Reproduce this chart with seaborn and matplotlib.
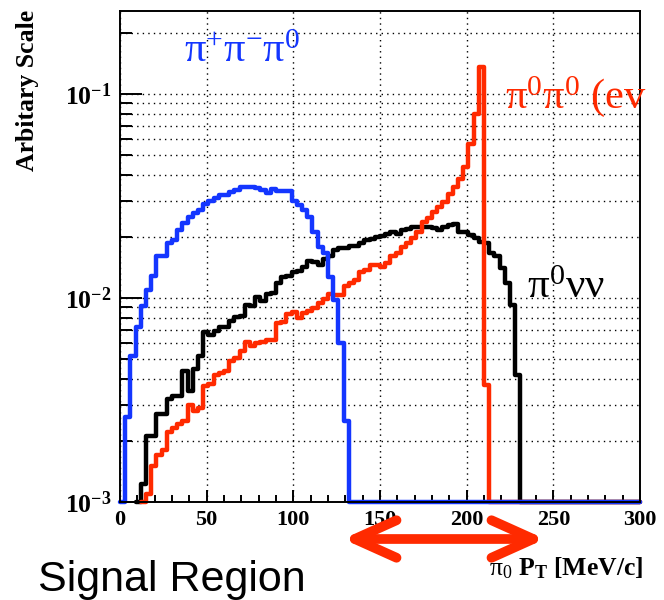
import numpy as np
import pandas as pd
import matplotlib.pyplot as plt
import seaborn as sns
from matplotlib.ticker import FixedLocator, FixedFormatter, LogLocator, NullFormatter, MultipleLocator

# 100 bins of 3 MeV/c from 0 to 300
bin_edges = np.arange(0, 301, 3)

pipipi = [0, 0.0026, 0.0052, 0.0072, 0.0091, 0.011, 0.0128, 0.016, 0.016, 0.0185,
          0.0192, 0.0215, 0.0232, 0.025, 0.026, 0.027, 0.029, 0.030, 0.0308, 0.032,
          0.032, 0.0332, 0.034, 0.0351, 0.0351, 0.035, 0.0345, 0.0338, 0.0328, 0.0341,
          0.0336, 0.0333, 0.0333, 0.030, 0.0286, 0.027, 0.025, 0.0211, 0.0178, 0.0166,
          0.0127, 0.0098, 0.006, 0.0025]

pinunu = [0, 0, 0, 0, 0.00123, 0.0021, 0.0021, 0.0027, 0.0027, 0.0032,
          0.0033, 0.0033, 0.0044, 0.0035, 0.0045, 0.0052, 0.0068, 0.0066, 0.0069, 0.0072,
          0.0072, 0.0077, 0.0081, 0.0082, 0.0092, 0.0091, 0.0101, 0.0097, 0.0105, 0.0106,
          0.0118, 0.0127, 0.0128, 0.0134, 0.0135, 0.0142, 0.0151, 0.015, 0.0145, 0.0156,
          0.016, 0.0172, 0.0175, 0.0176, 0.018, 0.018, 0.0185, 0.0192, 0.0195, 0.020,
          0.0201, 0.0206, 0.0211, 0.0206, 0.0215, 0.0218, 0.0222, 0.0222, 0.0224, 0.0224,
          0.022, 0.0216, 0.0222, 0.0228, 0.023, 0.0211, 0.021, 0.0204, 0.0196, 0.0189,
          0.0187, 0.0166, 0.016, 0.014, 0.0118, 0.0092, 0.0042]

pi0pi0 = [0, 0, 0, 0, 0, 0.0011, 0.0015, 0.0017, 0.0018, 0.0022,
          0.0023, 0.0024, 0.0025, 0.0030, 0.0028, 0.0029, 0.0037, 0.0038, 0.0042, 0.0043,
          0.0044, 0.0049, 0.0051, 0.0055, 0.0061, 0.0058, 0.0060, 0.0061, 0.0062, 0.0062,
          0.0075, 0.0076, 0.0083, 0.0085, 0.0080, 0.0084, 0.0086, 0.0089, 0.0094, 0.0099,
          0.0105, 0.0103, 0.0103, 0.0114, 0.0118, 0.0122, 0.0134, 0.0137, 0.0145, 0.0145,
          0.0142, 0.0148, 0.016, 0.0167, 0.0178, 0.0185, 0.0196, 0.0211, 0.0235, 0.0246,
          0.0265, 0.028, 0.0297, 0.0325, 0.0348, 0.0385, 0.044, 0.057, 0.080, 0.136,
          0.00375]

ytick_vals = [1e-3, 1e-2, 1e-1]
ytick_labels = [r"$\mathbf{10^{-3}}$", r"$\mathbf{10^{-2}}$", r"$\mathbf{10^{-1}}$"]
xtick_vals = [0, 50, 100, 150, 200, 250, 300]

ymin, ymax = 1e-3, 0.255
W, H = 664, 600

sns.set_theme(style="ticks")
plt.rcParams['font.family'] = ['Liberation Serif', 'DejaVu Serif']
plt.rcParams['mathtext.fontset'] = 'custom'
plt.rcParams['mathtext.rm'] = 'Liberation Serif'
plt.rcParams['mathtext.it'] = 'Liberation Serif:italic'
plt.rcParams['mathtext.bf'] = 'Liberation Serif:bold'
plt.rcParams['text.color'] = 'black'
plt.rcParams['xtick.color'] = 'black'
plt.rcParams['ytick.color'] = 'black'
plt.rcParams['xtick.labelcolor'] = 'black'
plt.rcParams['ytick.labelcolor'] = 'black'


def fpix(x, y):
    return x / W, 1 - y / H


fig = plt.figure(figsize=(W / 100, H / 100), dpi=100)
ax = fig.add_axes([120 / W, 1 - 502 / H, 520 / W, 491 / H])
ax.set_yscale('log')

centers = (bin_edges[:-1] + bin_edges[1:]) / 2
series = [(pinunu, 'black'), (pi0pi0, '#ff2a00'), (pipipi, '#1436ff')]
for vals, col in series:
    v = np.zeros(len(centers))
    v[:len(vals)] = vals
    first = int(np.argmax(v > 0))
    start = max(first - 1, 0)
    v = np.where(v > 0, v, ymin)
    df = pd.DataFrame({'pt': centers[start:], 'w': v[start:]})
    sns.histplot(data=df, x='pt', weights='w', bins=[float(b) for b in bin_edges[start:]],
                 element='step', fill=False, color=col, linewidth=3.2,
                 clip_on=False, ax=ax)

ax.set_xlim(0, 300)
ax.set_ylim(ymin, ymax)
ax.set_xlabel('')
ax.set_ylabel('')

ax.yaxis.set_major_locator(FixedLocator(ytick_vals))
ax.yaxis.set_major_formatter(FixedFormatter(ytick_labels))
ax.yaxis.set_minor_locator(LogLocator(base=10, subs=np.arange(2, 10)))
ax.yaxis.set_minor_formatter(NullFormatter())
ax.xaxis.set_major_locator(FixedLocator(xtick_vals))
ax.xaxis.set_minor_locator(MultipleLocator(10))

ax.tick_params(axis='y', which='major', direction='in', length=16, width=1.4,
               labelsize=18.5, pad=6, right=False)
ax.tick_params(axis='y', which='minor', direction='in', length=8.5, width=1.4, right=False)
ax.tick_params(axis='x', which='major', direction='in', length=9, width=1.4,
               labelsize=16, pad=6, top=False)
ax.tick_params(axis='x', which='minor', direction='in', length=5, width=1.4, top=False)
for lab in ax.get_xticklabels():
    lab.set_fontweight('bold')

ax.grid(True, which='major', axis='both', color='black', linestyle=(0, (1, 3)), linewidth=1.0)
ax.grid(True, which='minor', axis='y', color='black', linestyle=(0, (1, 3)), linewidth=1.0)
ax.set_axisbelow(True)
for sp in ax.spines.values():
    sp.set_linewidth(1.4)
    sp.set_color('black')

# labels
fig.text(*fpix(28, 10), 'Arbitary Scale', rotation=90, ha='center', va='top',
         fontsize=18.5, fontweight='bold')
fig.text(*fpix(643, 575), r"$\mathrm{\pi_{0}}$ $\mathbf{P_{T}}$ [MeV/c]", ha='right',
         va='baseline', fontsize=18.5, fontweight='bold')

fig.text(*fpix(184, 62), r"$\mathrm{\pi^{+}\pi^{-}\pi^{0}}$", color='#1436ff',
         fontsize=30.5, va='baseline')
fig.text(*fpix(505, 108), r"$\mathrm{\pi^{0}\pi^{0}}$ (ev", color='#ff2a00',
         fontsize=30.5, va='baseline')
fig.text(*fpix(527, 298), r"$\mathrm{\pi^{0}\nu\nu}$", color='black',
         fontsize=31, va='baseline')

fig.text(*fpix(38, 591), 'Signal Region', family=['Liberation Sans', 'DejaVu Sans'],
         fontsize=31, va='baseline', color='black')

ax.annotate('', xy=fpix(545, 539), xycoords='figure fraction',
            xytext=fpix(343, 539), textcoords='figure fraction',
            arrowprops=dict(arrowstyle='<->,head_length=1.0,head_width=0.45',
                            mutation_scale=30, lw=7, color='#ff2a00',
                            shrinkA=0, shrinkB=0, capstyle='round'),
            annotation_clip=False)

fig.savefig('out.png', dpi=100)
